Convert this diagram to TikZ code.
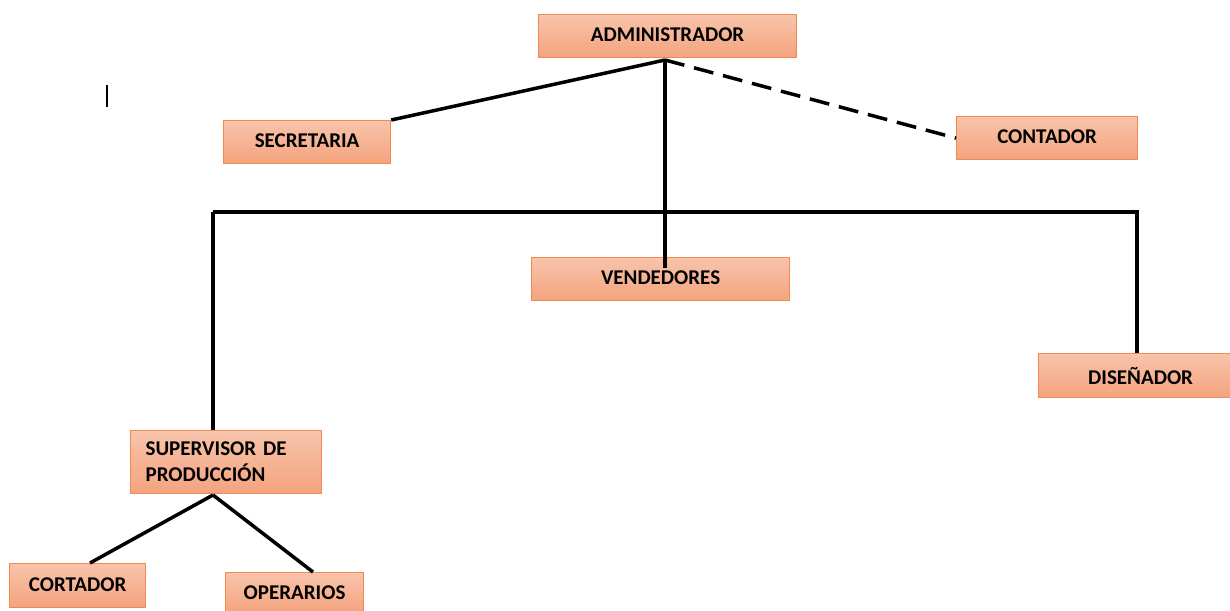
\documentclass[tikz,border=0pt]{standalone}
\usepackage{fontspec}
\setmainfont{Carlito}
\definecolor{boxtop}{HTML}{F8C4AB}
\definecolor{boxbot}{HTML}{F4A37E}
\definecolor{boxline}{HTML}{F08A50}
\begin{document}
\begin{tikzpicture}[x=1pt,y=-1pt,
  box/.style={draw=boxline,line width=1.2pt,top color=boxtop,bottom color=boxbot,
    anchor=north west,inner sep=0pt,font=\fontsize{21}{26}\selectfont\bfseries},
  link/.style={line width=3.5pt,black},
  dlink/.style={link,dash pattern=on 20pt off 10pt}]
\useasboundingbox (0,0) rectangle (1230,610);
\node[box,minimum width=258pt,minimum height=43pt] (adm) at (538,14) {\raisebox{2pt}{ADMINISTRADOR}};
\node[box,minimum width=167pt,minimum height=43pt] (sec) at (223,120) {\raisebox{2pt}{SECRETARIA}};
\node[box,minimum width=181pt,minimum height=43pt] (con) at (956,116) {\raisebox{2pt}{CONTADOR}};
\node[box,minimum width=258pt,minimum height=43pt] (ven) at (531,257) {\raisebox{2pt}{VENDEDORES}};
\node[box,minimum width=192pt,minimum height=44pt] (dis) at (1038,353) {\hspace*{12pt}DISEÑADOR};
\node[box,minimum width=191pt,minimum height=63pt,align=left,text width=161pt] (sup) at (130,430) {SUPERVISOR DE\\PRODUCCIÓN\\[-2pt]};
\node[box,minimum width=136pt,minimum height=44pt] (cor) at (9,563) {\raisebox{2pt}{CORTADOR}};
\node[box,minimum width=138pt,minimum height=40pt] (ope) at (225,572) {OPERARIOS};
\coordinate (hub) at (665,60);
\coordinate (busL) at (213,212);
\coordinate (busR) at (1139,212);
\coordinate (venend) at (665,268);
\coordinate (supb) at (213,495);
\draw[link] (hub) -- (sec.north east);
\draw[dlink] (hub) -- (con.west);
\draw[link] (hub) -- (venend);
\draw[link] (busL) -- (busR);
\draw[link] (busL) -- (sup.north -| busL);
\draw[link] (1137,212) -- (dis.north -| 1137,0);
\draw[link] (supb) -- (cor.north -| 90,0);
\draw[link] (supb) -- (ope.north -| 313,0);
\coordinate (cur1) at (107,85);
\coordinate (cur2) at (107,107);
\draw[line width=1.2pt] (cur1) -- (cur2);
\end{tikzpicture}
\end{document}
